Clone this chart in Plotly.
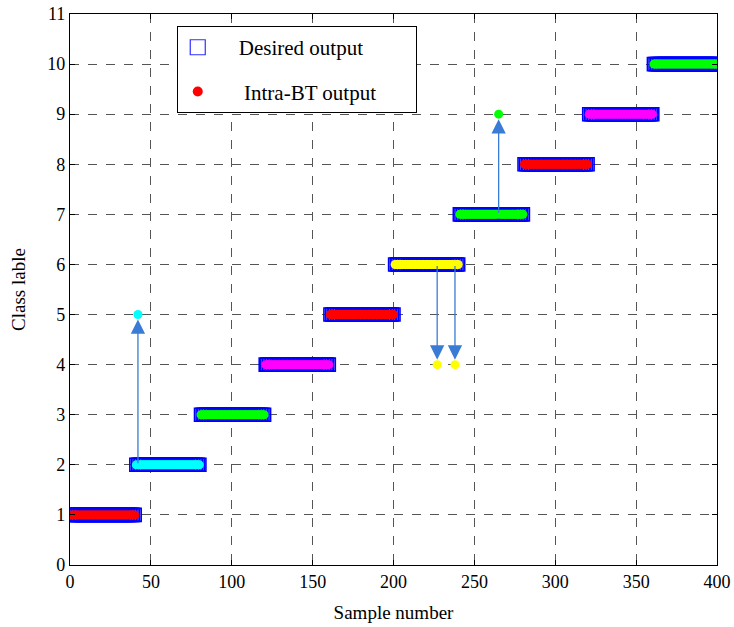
import plotly.graph_objects as go

# ---- data ----
class_labels = [1, 2, 3, 4, 5, 6, 7, 8, 9, 10]
samples_per_class = [40, 40, 40, 40, 40, 40, 40, 40, 40, 40]
class_colors = ["#ff0000", "#00ffff", "#00ff00", "#ff00ff", "#ff0000",
                "#ffff00", "#00ff00", "#ff0000", "#ff00ff", "#00ff00"]
# misclassified samples: sample number -> predicted class
wrong_samples = [42, 227, 238, 265]
wrong_preds = [5, 4, 4, 9]

x_ticks = [0, 50, 100, 150, 200, 250, 300, 350, 400]
y_ticks = list(range(0, 12))

# build series
sample_no = []
desired = []
colors = []
n = 0
for lab, cnt, col in zip(class_labels, samples_per_class, class_colors):
    for _ in range(cnt):
        n += 1
        sample_no.append(n)
        desired.append(lab)
        colors.append(col)
predicted = list(desired)
for s, p in zip(wrong_samples, wrong_preds):
    predicted[s - 1] = p

serif = "Liberation Serif, Times New Roman, serif"
sp = "\u00a0"

fig = go.Figure()
fig.add_trace(go.Scatter(
    x=sample_no, y=desired, mode="markers",
    marker=dict(symbol="square-open", size=13, color="#0000ff",
                line=dict(width=1.6, color="#0000ff")),
    showlegend=False, hoverinfo="skip"))
fig.add_trace(go.Scatter(
    x=sample_no, y=predicted, mode="markers",
    marker=dict(symbol="circle", size=9, color=colors),
    showlegend=False))

# legend-only traces
fig.add_trace(go.Scatter(
    x=[None], y=[None], mode="markers",
    name=sp * 4 + "Desired output" + sp * 9,
    marker=dict(symbol="square-open", size=15, color="#3030ff",
                line=dict(width=1.2)),
    legendgroup="a"))
fig.add_trace(go.Scatter(
    x=[None], y=[None], mode="markers",
    name=sp * 5 + "Intra-BT output" + sp * 5,
    marker=dict(symbol="circle", size=10, color="#ff0000"),
    legendgroup="b"))

# arrows
for s, p in zip(wrong_samples, wrong_preds):
    d = desired[s - 1]
    fig.add_annotation(
        x=s, y=p, ax=s, ay=d, xref="x", yref="y", axref="x", ayref="y",
        text="", showarrow=True, arrowhead=2, arrowsize=2.2, arrowwidth=1.3,
        arrowcolor="#3a7bd5", standoff=5)

axis_common = dict(
    showline=True, linecolor="black", linewidth=1.2, mirror="ticks",
    ticks="inside", ticklen=5, tickcolor="black",
    showgrid=True, gridcolor="#555555", griddash="dash", gridwidth=1,
    zeroline=False, automargin=False,
    tickfont=dict(family=serif, size=18, color="black"),
)

fig.update_xaxes(range=[0, 400], tickvals=x_ticks, **axis_common,
                 title=dict(text="Sample number", font=dict(family=serif, size=19, color="black"), standoff=14))
fig.update_yaxes(range=[0, 11], tickvals=y_ticks, **axis_common,
                 title=dict(text="Class lable", font=dict(family=serif, size=19, color="black"), standoff=16))

fig.update_layout(
    width=734, height=627,
    margin=dict(l=70, r=17, t=14, b=62),
    plot_bgcolor="white", paper_bgcolor="white",
    legend=dict(x=0.165, y=0.978, xanchor="left", yanchor="top",
                bgcolor="white", bordercolor="black", borderwidth=1,
                font=dict(family=serif, size=21, color="black"),
                tracegroupgap=14, traceorder="grouped", itemwidth=30),
)

fig.write_html("out.html")
